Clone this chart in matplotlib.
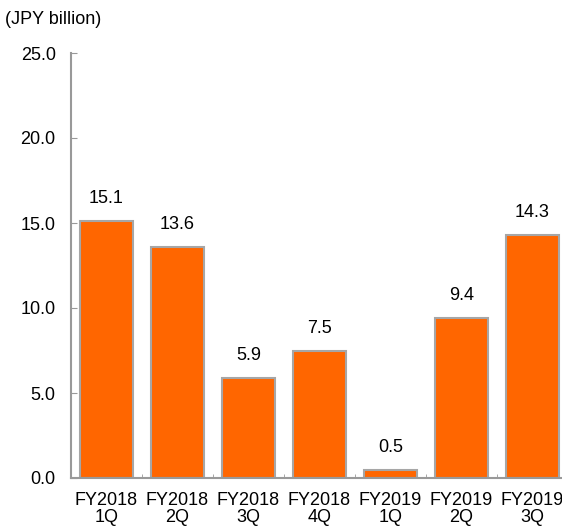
import matplotlib.pyplot as plt
import numpy as np

plt.rcParams["font.family"] = ["Liberation Sans", "DejaVu Sans"]

quarters = ["FY2018\n1Q", "FY2018\n2Q", "FY2018\n3Q", "FY2018\n4Q",
            "FY2019\n1Q", "FY2019\n2Q", "FY2019\n3Q"]
values = [15.1, 13.6, 5.9, 7.5, 0.5, 9.4, 14.3]
yticks = [0, 5, 10, 15, 20, 25]

fig = plt.figure(figsize=(5.62, 5.29), dpi=100)
ax = fig.add_axes([71 / 562, 1 - 478 / 529, 497 / 562, 425 / 529])

x = np.arange(len(values))
ax.bar(x, values, width=0.74, color="#FF6600", edgecolor="#A6A6A6", linewidth=1.5)

for xi, v in zip(x, values):
    ax.annotate(f"{v:.1f}", (xi, v), xytext=(0, 10), textcoords="offset points",
                ha="center", va="bottom", fontsize=13)

ax.set_xlim(-0.5, len(values) - 0.5)
ax.set_ylim(0, 25)
ax.set_yticks(yticks)
ax.set_yticklabels([f"{t:.1f}" for t in yticks], fontsize=13)
ax.set_xticks(x)
ax.set_xticklabels(quarters, fontsize=13, linespacing=1.0)
ax.set_xticks(np.arange(0.5, len(values) - 0.5), minor=True)
ax.tick_params(axis="x", which="major", length=0, pad=10)
ax.tick_params(axis="x", which="minor", direction="in", length=3, color="#999999")
ax.tick_params(axis="y", direction="in", length=4, color="#999999", pad=11)

for s in ["top", "right"]:
    ax.spines[s].set_visible(False)
for s in ["left", "bottom"]:
    ax.spines[s].set_color("#999999")
    ax.spines[s].set_linewidth(1.5)

fig.text(5 / 562, 1 - 20 / 529, "(JPY billion)", fontsize=13, va="center", ha="left")

fig.savefig("out.png", dpi=100)
